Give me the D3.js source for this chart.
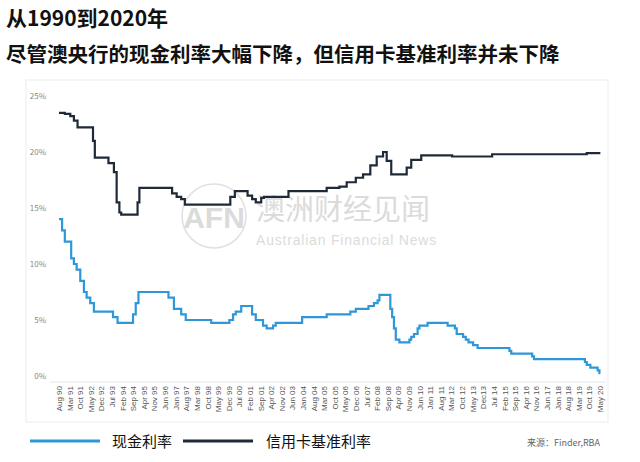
<!DOCTYPE html>
<html>
<head>
<meta charset="utf-8">
<script src="https://d3js.org/d3.v7.min.js"></script>
<style>
body { margin: 0; background: #fff; font-family: "Noto Sans CJK SC", "Noto Sans", sans-serif; }
</style>
</head>
<body>
<div id="chart"></div>
<script>
// tick labels every 7 months, Aug 90 .. May 20
const tickLabels = ["Aug 90","Mar 91","Oct 91","May 92","Dec 92","Jul 93","Feb 94","Sep 94","Apr 95","Nov 95",
  "Jun 96","Jan 97","Aug 97","Mar 98","Oct 98","May 99","Dec 99","Jul 00","Feb 01","Sep 01","Apr 02","Nov 02",
  "Jun 03","Jan 04","Aug 04","Mar 05","Oct 05","May 06","Dec 06","Jul 07","Feb 08","Sep 08","Apr 09","Nov 09",
  "Jun 10","Jan 11","Aug 11","Mar 12","Oct 12","May 13","Dec13","Jul 14","Feb 15","Sep 15","Apr 16","Nov 16",
  "Jun 17","Jan 18","Aug 18","Mar 19","Oct 19","May 20"];
const yTicks = [0, 5, 10, 15, 20, 25];

// cash rate: [decimal year, %]
const cashRate = [[1990.58,14.0],[1990.75,13.0],[1990.9,12.0],[1991.25,10.5],[1991.4,10.0],[1991.55,9.5],[1991.75,8.5],
  [1991.95,7.5],[1992.1,7.0],[1992.3,6.5],[1992.5,5.75],[1993.2,5.75],[1993.55,5.25],[1993.8,4.75],[1994.6,4.75],
  [1994.65,5.5],[1994.8,6.5],[1994.95,7.5],[1996.45,7.5],[1996.6,7.0],[1996.9,6.0],[1997.3,5.5],[1997.55,5.0],
  [1998.9,5.0],[1998.95,4.75],[1999.85,4.75],[1999.95,5.0],[2000.15,5.5],[2000.3,5.75],[2000.6,6.25],[2001.1,6.25],
  [2001.2,5.5],[2001.4,5.0],[2001.8,4.5],[2002.0,4.25],[2002.35,4.5],[2002.5,4.75],[2003.9,4.75],[2003.95,5.25],
  [2005.25,5.25],[2005.3,5.5],[2006.4,5.5],[2006.6,5.75],[2006.9,6.0],[2007.6,6.25],[2007.9,6.5],[2008.1,6.75],
  [2008.2,7.25],[2008.7,7.25],[2008.8,6.0],[2008.9,5.25],[2009.0,4.25],[2009.1,3.25],[2009.3,3.0],[2009.75,3.0],
  [2009.85,3.25],[2009.95,3.5],[2010.1,3.75],[2010.3,4.25],[2010.4,4.5],[2010.85,4.75],[2011.85,4.75],[2011.95,4.5],
  [2012.35,4.25],[2012.45,3.75],[2012.8,3.5],[2012.95,3.25],[2013.1,3.0],[2013.35,2.75],[2013.6,2.5],[2015.1,2.5],
  [2015.35,2.25],[2015.45,2.0],[2016.35,2.0],[2016.6,1.75],[2016.7,1.5],[2019.45,1.5],[2019.5,1.25],[2019.6,1.0],
  [2019.8,0.75],[2020.2,0.5],[2020.3,0.25],[2020.35,0.25]];

// credit card standard rate
const cardRate = [[1990.58,23.5],[1990.9,23.4],[1991.2,23.2],[1991.4,22.8],[1991.6,22.2],[1992.4,22.2],[1992.45,21.0],
  [1992.55,19.5],[1993.1,19.5],[1993.3,19.0],[1993.6,18.2],[1993.75,15.5],[1993.9,14.6],[1994.0,14.4],[1994.8,14.4],
  [1994.9,15.5],[1995.0,16.8],[1996.6,16.8],[1996.8,16.3],[1997.05,16.0],[1997.3,15.8],[1997.5,15.3],[1999.8,15.3],
  [2000.0,16.0],[2000.25,16.5],[2000.7,16.5],[2000.95,16.1],[2001.2,15.8],[2001.4,15.5],[2001.7,15.9],[2001.85,16.0],
  [2003.0,16.0],[2003.2,16.5],[2005.2,16.5],[2005.3,16.8],[2006.0,16.9],[2006.4,17.3],[2006.9,17.7],[2007.3,18.0],
  [2007.7,18.8],[2008.05,19.6],[2008.4,20.0],[2008.6,19.2],[2008.85,18.0],[2009.45,18.0],[2009.7,18.6],[2009.95,19.3],
  [2010.5,19.7],[2011.8,19.7],[2012.2,19.6],[2014.2,19.6],[2014.4,19.8],[2019.4,19.8],[2019.6,19.9],[2020.35,19.9]];

const W = 640, H = 462;
const svg = d3.select("#chart").append("svg").attr("width", W).attr("height", H);

// title
svg.append("text").attr("x", 6).attr("y", 26).attr("font-size", 21).attr("font-weight", "bold")
  .attr("fill", "#111").text("从1990到2020年");
svg.append("text").attr("x", 6).attr("y", 62).attr("font-size", 20.5).attr("font-weight", "bold")
  .attr("fill", "#111").text("尽管澳央行的现金利率大幅下降，但信用卡基准利率并未下降");

// panel frame
svg.append("rect").attr("x", 26).attr("y", 80).attr("width", 582).attr("height", 342)
  .attr("fill", "none").attr("stroke", "#ececec");

const x = d3.scaleLinear().domain([1990.58, 2020.33]).range([59, 600]);
const y = d3.scaleLinear().domain([0, 25]).range([376, 96]);

// y labels
svg.selectAll(".yl").data(yTicks).join("text")
  .attr("x", 46).attr("y", d => y(d) + 3).attr("text-anchor", "end")
  .attr("font-size", 8).attr("fill", "#888").text(d => d + "%");
svg.append("line").attr("x1", 50).attr("x2", 606).attr("y1", y(0) + 6).attr("y2", y(0) + 6)
  .attr("stroke", "#e4e4e4");

// x labels (rotated)
const lx = d3.scaleLinear().domain([0, tickLabels.length - 1]).range([59, 600]);
svg.selectAll(".xl").data(tickLabels).join("text")
  .attr("transform", (d, i) => `translate(${lx(i) + 3},386) rotate(-90)`)
  .attr("text-anchor", "end").attr("font-size", 8).attr("font-family", "Liberation Sans, sans-serif")
  .attr("fill", "#555").text(d => d);

// watermark
const wm = svg.append("g").attr("opacity", 0.35);
wm.append("circle").attr("cx", 214).attr("cy", 216).attr("r", 32).attr("fill", "none").attr("stroke", "#aaa").attr("stroke-width", 1.5);
wm.append("text").attr("x", 214).attr("y", 228).attr("text-anchor", "middle").attr("font-size", 30)
  .attr("font-weight", "bold").attr("fill", "#999").attr("font-family", "Liberation Sans, sans-serif").text("AFN");
wm.append("text").attr("x", 256).attr("y", 220).attr("font-size", 29).attr("fill", "#999").text("澳洲财经见闻");
wm.append("text").attr("x", 256).attr("y", 245).attr("font-size", 14).attr("fill", "#999")
  .attr("font-family", "Liberation Sans, sans-serif").attr("letter-spacing", 0.8).text("Australian Financial News");

const line = d3.line().x(d => x(d[0])).y(d => y(d[1])).curve(d3.curveStepAfter);
svg.append("path").datum(cardRate).attr("d", line).attr("fill", "none")
  .attr("stroke", "#1e2a38").attr("stroke-width", 2.2);
svg.append("path").datum(cashRate).attr("d", line).attr("fill", "none")
  .attr("stroke", "#2e97d8").attr("stroke-width", 2.2);

// legend
svg.append("line").attr("x1", 30).attr("x2", 100).attr("y1", 441).attr("y2", 441)
  .attr("stroke", "#2e97d8").attr("stroke-width", 3);
svg.append("text").attr("x", 112).attr("y", 447).attr("font-size", 15).attr("fill", "#111").text("现金利率");
svg.append("line").attr("x1", 183).attr("x2", 253).attr("y1", 441).attr("y2", 441)
  .attr("stroke", "#1e2a38").attr("stroke-width", 3);
svg.append("text").attr("x", 266).attr("y", 447).attr("font-size", 15).attr("fill", "#111").text("信用卡基准利率");
svg.append("text").attr("x", 600).attr("y", 446).attr("text-anchor", "end").attr("font-size", 9)
  .attr("fill", "#666").text("来源：Finder,RBA");
</script>
</body>
</html>
